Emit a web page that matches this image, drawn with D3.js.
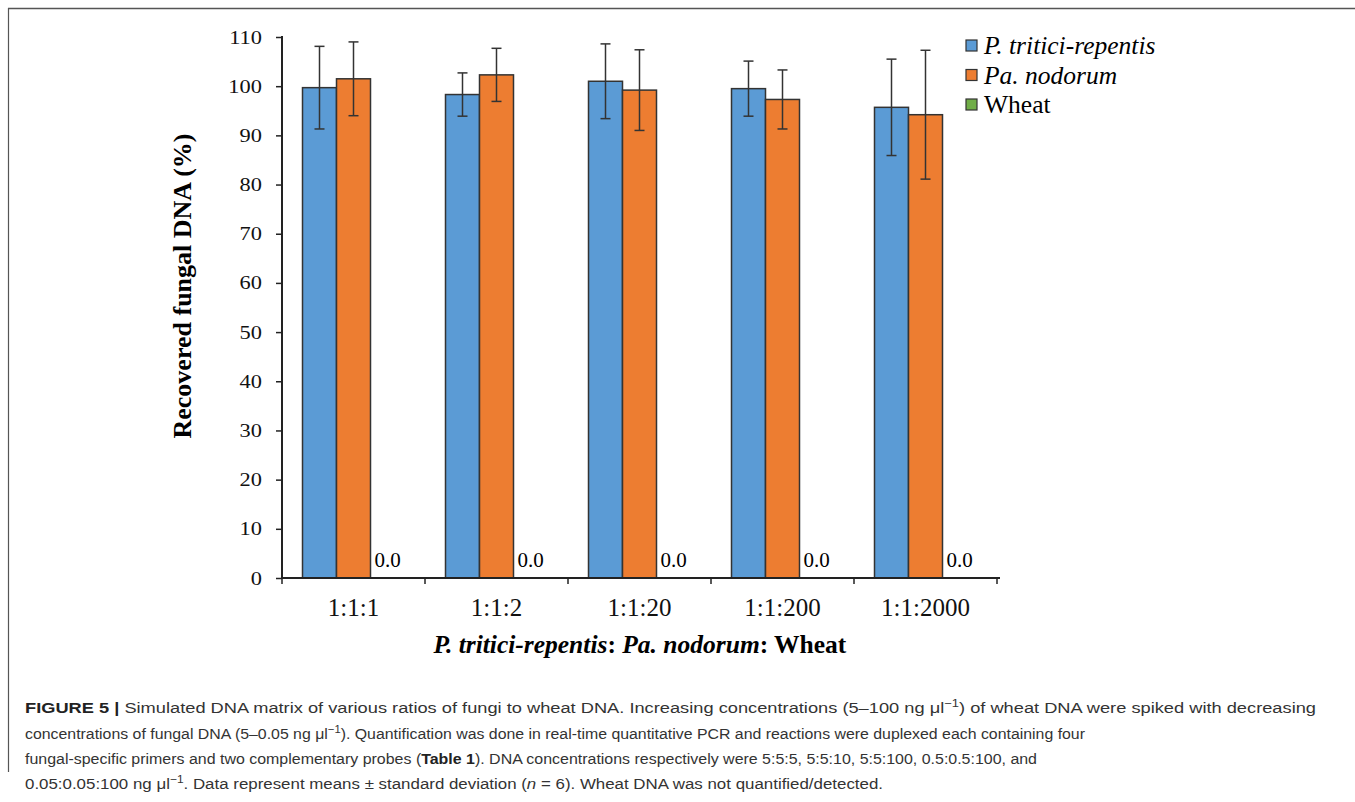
<!DOCTYPE html>
<html>
<head>
<meta charset="utf-8">
<script src="https://cdn.jsdelivr.net/npm/d3@7"></script>
<style>
  body { margin: 0; background: #fff; }
  svg { display: block; }
</style>
</head>
<body>
<script>
var W = 1355, H = 802;

// data
var ratios = ["1:1:1", "1:1:2", "1:1:20", "1:1:200", "1:1:2000"];
var seriesNames = ["P. tritici-repentis", "Pa. nodorum", "Wheat"];
var seriesColors = ["#5B9BD5", "#ED7D31", "#70AD47"];
var ptrMean = [99.7, 98.3, 101.0, 99.5, 95.7];
var ptrSd   = [8.4, 4.4, 7.6, 5.6, 9.8];
var pnoMean = [101.5, 102.3, 99.2, 97.3, 94.2];
var pnoSd   = [7.5, 5.4, 8.2, 6.0, 13.1];
var wheatMean = [0, 0, 0, 0, 0];
var yTicks = [0, 10, 20, 30, 40, 50, 60, 70, 80, 90, 100, 110];

var svg = d3.select("body").append("svg")
    .attr("width", W).attr("height", H);

// frame lines (top + left)
svg.append("line").attr("x1", 8).attr("x2", W).attr("y1", 8.5).attr("y2", 8.5)
    .attr("stroke", "#555").attr("stroke-width", 1.5);
svg.append("line").attr("x1", 8.5).attr("x2", 8.5).attr("y1", 8).attr("y2", 772)
    .attr("stroke", "#555").attr("stroke-width", 1.2);

var pLeft = 282, pRight = 997, pTop = 37, pBottom = 578;

var x0 = d3.scaleBand().domain(ratios).range([pLeft, pRight]).padding(0);
var x1 = d3.scaleBand().domain(seriesNames)
    .range([20.5, x0.bandwidth() - 20.5]).padding(0);
var y = d3.scaleLinear().domain([0, 110]).range([pBottom, pTop]);

var rows = ratios.map(function(r, i) {
  return [
    {cat: r, s: seriesNames[0], v: ptrMean[i], sd: ptrSd[i], c: seriesColors[0]},
    {cat: r, s: seriesNames[1], v: pnoMean[i], sd: pnoSd[i], c: seriesColors[1]},
    {cat: r, s: seriesNames[2], v: wheatMean[i], sd: 0, c: seriesColors[2]}
  ];
});
var flat = [].concat.apply([], rows);

var serif = "'Liberation Serif', 'Times New Roman', serif";

// bars
svg.append("g").selectAll("rect")
    .data(flat.filter(function(d) { return d.v > 0; }))
    .enter().append("rect")
    .attr("x", function(d) { return x0(d.cat) + x1(d.s); })
    .attr("y", function(d) { return y(d.v); })
    .attr("width", x1.bandwidth())
    .attr("height", function(d) { return y(0) - y(d.v); })
    .attr("fill", function(d) { return d.c; })
    .attr("stroke", "#333").attr("stroke-width", 1.5);

// error bars
var eb = svg.append("g").attr("stroke", "#333").attr("stroke-width", 1.5);
flat.filter(function(d) { return d.sd > 0; }).forEach(function(d) {
  var cx = x0(d.cat) + x1(d.s) + x1.bandwidth() / 2;
  eb.append("line").attr("x1", cx).attr("x2", cx)
    .attr("y1", y(d.v + d.sd)).attr("y2", y(d.v - d.sd));
  [d.v + d.sd, d.v - d.sd].forEach(function(v) {
    eb.append("line").attr("x1", cx - 5).attr("x2", cx + 5)
      .attr("y1", y(v)).attr("y2", y(v));
  });
});

// wheat value labels
svg.append("g").selectAll("text")
    .data(flat.filter(function(d) { return d.s === "Wheat"; }))
    .enter().append("text")
    .attr("x", function(d) { return x0(d.cat) + x1(d.s) + x1.bandwidth() / 2; })
    .attr("y", function(d) { return y(d.v) - 11; })
    .attr("text-anchor", "middle")
    .style("font-family", serif).style("font-size", "21px")
    .text(function(d) { return d.v.toFixed(1); });

// y axis
var yAxis = d3.axisLeft(y).tickValues(yTicks).tickSize(6).tickPadding(11);
var gy = svg.append("g").attr("transform", "translate(" + pLeft + ",0)").call(yAxis);
gy.select(".domain").attr("stroke", "#222").attr("stroke-width", 2).attr("d", "M0," + (pTop - 1) + "V" + pBottom);
gy.selectAll(".tick line").attr("stroke", "#222").attr("stroke-width", 1.5);
gy.selectAll(".tick text").style("font-family", serif).style("font-size", "19px").attr("fill", "#111")
    .attr("transform", "scale(1.18,1)");

// x axis
var xAxis = d3.axisBottom(x0).tickSize(0).tickPadding(20);
var gx = svg.append("g").attr("transform", "translate(0," + pBottom + ")").call(xAxis);
gx.select(".domain").attr("stroke", "#222").attr("stroke-width", 2).attr("d", "M" + pLeft + ",0H" + (pRight + 3));
gx.selectAll(".tick text").style("font-family", serif).style("font-size", "25px").attr("fill", "#111");
gx.selectAll("line.sep").data(d3.range(ratios.length + 1)).enter().append("line")
    .attr("class", "sep")
    .attr("x1", function(i) { return pLeft + i * x0.bandwidth(); })
    .attr("x2", function(i) { return pLeft + i * x0.bandwidth(); })
    .attr("y1", 0).attr("y2", 6)
    .attr("stroke", "#222").attr("stroke-width", 1.5);

// y title
svg.append("text")
    .attr("transform", "translate(191,286) rotate(-90)")
    .attr("text-anchor", "middle")
    .style("font-family", serif).style("font-size", "26px").style("font-weight", "bold")
    .text("Recovered fungal DNA (%)");

// x title
var xt = svg.append("text")
    .attr("x", 640).attr("y", 653)
    .attr("text-anchor", "middle")
    .style("font-family", serif).style("font-size", "25.5px").style("font-weight", "bold");
xt.append("tspan").style("font-style", "italic").text("P. tritici-repentis");
xt.append("tspan").text(": ");
xt.append("tspan").style("font-style", "italic").text("Pa. nodorum");
xt.append("tspan").text(": Wheat");

// legend
var lg = svg.append("g").attr("transform", "translate(966,40)");
seriesNames.forEach(function(s, i) {
  var g = lg.append("g").attr("transform", "translate(0," + (i * 29.5) + ")");
  g.append("rect").attr("width", 11).attr("height", 11)
    .attr("fill", seriesColors[i]).attr("stroke", "#333").attr("stroke-width", 1.2);
  g.append("text").attr("x", 18).attr("y", 14)
    .style("font-family", serif).style("font-size", "25.5px")
    .style("font-style", i < 2 ? "italic" : "normal")
    .text(s);
});

// caption, each line fitted to the width it has in the figure
var sans = "'Liberation Sans', Arial, Helvetica, sans-serif";
var cap = svg.append("g")
    .style("font-family", sans).style("font-size", "15.5px").attr("fill", "#333");

function capLine(yy, parts, len) {
  var t = cap.append("text").attr("x", 25).attr("y", yy)
    .attr("textLength", len).attr("lengthAdjust", "spacingAndGlyphs");
  parts.forEach(function(p) {
    var ts = t.append("tspan").text(p.t);
    if (p.b) ts.style("font-weight", "bold").attr("fill", "#222");
    if (p.i) ts.style("font-style", "italic");
    if (p.sup) ts.attr("dy", -6).style("font-size", "11px");
    if (p.down) ts.attr("dy", 6);
  });
  return t;
}
capLine(713, [
  {t: "FIGURE 5 | ", b: true},
  {t: "Simulated DNA matrix of various ratios of fungi to wheat DNA. Increasing concentrations (5\u2013100 ng \u03bcl"},
  {t: "\u22121", sup: true},
  {t: ") of wheat DNA were spiked with decreasing", down: true}
], 1291);
capLine(739, [
  {t: "concentrations of fungal DNA (5\u20130.05 ng \u03bcl"},
  {t: "\u22121", sup: true},
  {t: "). Quantification was done in real-time quantitative PCR and reactions were duplexed each containing four", down: true}
], 1060);
capLine(764, [
  {t: "fungal-specific primers and two complementary probes ("},
  {t: "Table 1", b: true},
  {t: "). DNA concentrations respectively were 5:5:5, 5:5:10, 5:5:100, 0.5:0.5:100, and"}
], 1012);
capLine(789, [
  {t: "0.05:0.05:100 ng \u03bcl"},
  {t: "\u22121", sup: true},
  {t: ". Data represent means \u00b1 standard deviation (", down: true},
  {t: "n", i: true},
  {t: " = 6). Wheat DNA was not quantified/detected."}
], 858);
</script>
</body>
</html>
